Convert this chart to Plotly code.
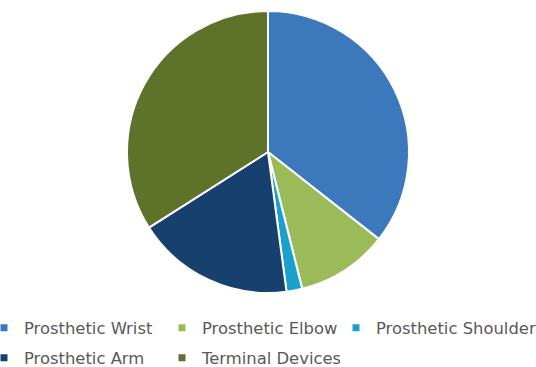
import plotly.graph_objects as go

labels = ["Prosthetic Wrist", "Prosthetic Elbow", "Prosthetic Shoulder", "Prosthetic Arm", "Terminal Devices"]
values = [35.6, 10.5, 1.8, 18.1, 34.0]
colors = ["#3C78BC", "#9BBB59", "#1AA0CC", "#17406E", "#5E7229"]
legend_ids = ["legend", "legend", "legend3", "legend2", "legend2"]

W, H = 536, 367
B = 70            # bottom margin in px (legend lives there)
PH = H - B        # plot-area height

def py(px):       # page pixel y -> paper y
    return (PH - px) / PH

fig = go.Figure()
fig.add_trace(go.Pie(
    labels=labels, values=values, sort=False, direction="clockwise", rotation=0,
    marker=dict(colors=colors, line=dict(color="white", width=2)),
    textinfo="none", hoverinfo="label+percent", showlegend=False,
    domain=dict(x=[127/W, 409/W], y=[py(293), py(11)]),
))
for lab, col, lg in zip(labels, colors, legend_ids):
    fig.add_trace(go.Scatter(
        x=[None], y=[None], mode="markers", name=lab, legend=lg,
        marker=dict(symbol="square", size=7, color=col),
    ))

legend_common = dict(orientation="h", xanchor="left", yanchor="middle",
                     font=dict(family="DejaVu Sans", size=16.4, color="#595959"),
                     itemwidth=30, bgcolor="rgba(0,0,0,0)")
fig.update_layout(
    width=W, height=H, margin=dict(l=0, r=0, t=0, b=B, autoexpand=False),
    paper_bgcolor="white", plot_bgcolor="white",
    xaxis=dict(visible=False), yaxis=dict(visible=False),
    legend=dict(x=-16/W, y=py(328), entrywidth=133, entrywidthmode="pixels", **legend_common),
    legend2=dict(x=-16/W, y=py(358), entrywidth=133, entrywidthmode="pixels", **legend_common),
    legend3=dict(x=336/W, y=py(328), **legend_common),
)
fig.write_html("out.html")
